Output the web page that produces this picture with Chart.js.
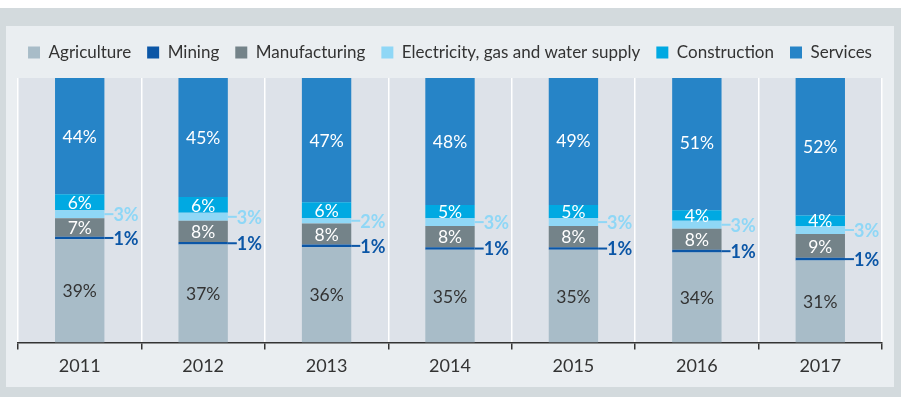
<!DOCTYPE html>
<html>
<head>
<meta charset="utf-8">
<script src="https://cdn.jsdelivr.net/npm/chart.js@4"></script>
<style>
  html, body { margin: 0; padding: 0; background: #fff; }
  #frame { position: absolute; left: 0; top: 8px; width: 901px; height: 389px; background: #d3dadd; }
  #panel { position: absolute; left: 6px; top: 18px; width: 888px; height: 361px; background: #eaeef1; }
  canvas { display: block; }
</style>
</head>
<body>
<div id="frame"><div id="panel"><canvas id="employment" width="888" height="361"></canvas></div></div>
<script>
  const years = ['2011', '2012', '2013', '2014', '2015', '2016', '2017'];
  const agriculture = [39, 37, 36, 35, 35, 34, 31];
  const mining = [1, 1, 1, 1, 1, 1, 1];
  const manufacturing = [7, 8, 8, 8, 8, 8, 9];
  const electricity = [3, 3, 2, 3, 3, 3, 3];
  const construction = [6, 6, 6, 5, 5, 4, 4];
  const services = [44, 45, 47, 48, 49, 51, 52];

  const FONT = 'Lato, "Open Sans", sans-serif';

  // label style per series: inside the bar, or pulled out to the right with a short leader
  const series = [
    { label: 'Agriculture', data: agriculture, color: '#a8bcc8', text: '#333333', outside: false },
    { label: 'Mining', data: mining, color: '#0b56a6', text: '#0b56a6', outside: true },
    { label: 'Manufacturing', data: manufacturing, color: '#748389', text: '#ffffff', outside: false },
    { label: 'Electricity, gas and water supply', data: electricity, color: '#8fd7f6', text: '#8fd7f6', outside: true },
    { label: 'Construction', data: construction, color: '#00a9e2', text: '#ffffff', outside: false },
    { label: 'Services', data: services, color: '#2684c7', text: '#ffffff', outside: false }
  ];

  const plotBackground = {
    id: 'plotBackground',
    beforeDraw(chart) {
      const { ctx, chartArea: a } = chart;
      ctx.save();
      ctx.fillStyle = '#dde2e9';
      ctx.fillRect(a.left, a.top, a.right - a.left, a.bottom - a.top);
      ctx.restore();
    }
  };

  // leave some room under the legend
  const legendGap = {
    id: 'legendGap',
    beforeInit(chart) {
      const fit = chart.legend.fit;
      chart.legend.fit = function () {
        fit.bind(chart.legend)();
        this.height += 7;
      };
    }
  };

  const segmentLabels = {
    id: 'segmentLabels',
    afterDatasetsDraw(chart) {
      const ctx = chart.ctx;
      ctx.save();
      ctx.textBaseline = 'middle';
      chart.data.datasets.forEach((ds, i) => {
        const s = series[i];
        chart.getDatasetMeta(i).data.forEach((bar, j) => {
          const v = ds.data[j];
          const y = (bar.y + bar.base) / 2;
          if (s.outside) {
            const x0 = bar.x + bar.width / 2;
            ctx.strokeStyle = s.color;
            ctx.lineWidth = 2;
            ctx.beginPath();
            ctx.moveTo(x0, y);
            ctx.lineTo(x0 + 9, y);
            ctx.stroke();
            ctx.fillStyle = s.text;
            ctx.font = 'bold 18px ' + FONT;
            ctx.textAlign = 'left';
            ctx.fillText(v + '%', x0 + 9, y + 1);
          } else {
            ctx.fillStyle = s.text;
            ctx.font = '17.5px ' + FONT;
            ctx.textAlign = 'center';
            ctx.fillText(v + '%', bar.x, y + 1);
          }
        });
      });
      ctx.restore();
    }
  };

  // empty side axes just to inset the plot, so the legend gets the full width
  const spacer = (position) => ({
    position: position,
    display: true,
    grid: { display: false },
    border: { display: false },
    ticks: { display: false },
    afterFit(scale) { scale.width = 12; }
  });

  new Chart(document.getElementById('employment'), {
    type: 'bar',
    data: {
      labels: years,
      datasets: series.map((s) => ({
        label: s.label,
        data: s.data,
        backgroundColor: s.color,
        borderWidth: 0,
        barPercentage: 0.4,
        categoryPercentage: 1
      }))
    },
    options: {
      responsive: false,
      animation: false,
      layout: { padding: { left: 0, right: 0, top: 2, bottom: 4 } },
      plugins: {
        legend: {
          position: 'top',
          labels: {
            boxWidth: 12,
            boxHeight: 12,
            padding: 16,
            color: '#333333',
            font: { family: FONT, size: 17 }
          }
        },
        tooltip: { enabled: false }
      },
      scales: {
        x: {
          stacked: true,
          grid: { color: '#ffffff', lineWidth: 1.5, tickColor: '#333333', tickLength: 7, offset: true },
          border: { color: '#333333', width: 1.5 },
          ticks: { color: '#333333', padding: 6, font: { family: FONT, size: 18 } }
        },
        y: Object.assign(spacer('left'), { stacked: true, min: 0, max: 100 }),
        yRight: spacer('right')
      }
    },
    plugins: [plotBackground, legendGap, segmentLabels]
  });
</script>
</body>
</html>
